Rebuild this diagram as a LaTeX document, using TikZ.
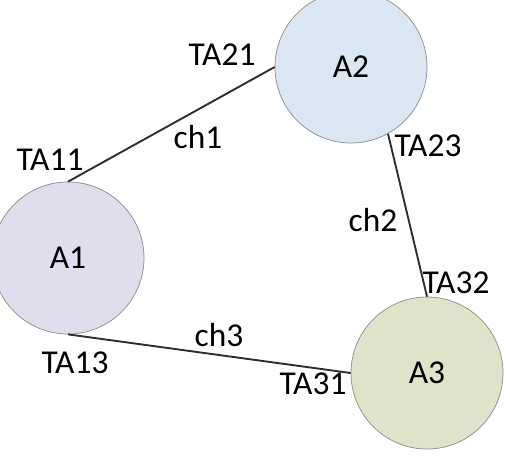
\documentclass[tikz,border=0pt]{standalone}
\usepackage{fontspec}
\setmainfont{Carlito}
\usepackage{xcolor}
\definecolor{Lilac}{RGB}{224,221,236}
\definecolor{Sky}{RGB}{218,230,242}
\definecolor{Sage}{RGB}{221,228,202}
\definecolor{Rim}{RGB}{140,140,140}
\definecolor{Link}{RGB}{45,45,45}
\usetikzlibrary{positioning}

\tikzset{
	agent/.style={circle, draw=Rim, line width=0.6pt, minimum size=4.56cm, inner sep=0pt, font=\fontsize{28.5}{32}\selectfont},
	tag/.style={font=\fontsize{28.5}{32}\selectfont, inner sep=1pt},
	link/.style={draw=Link, line width=1.6pt}
}

\begin{document}
\begin{tikzpicture}[x=0.03cm, y=-0.03cm]
		
		% Frame
		\useasboundingbox (0,0) rectangle (510,464);
		\clip (0,0) rectangle (510,464);
		
		% Agents
		\node[agent, fill=Lilac] (A1) at (68,258) {A1};
		\node[agent, fill=Sky] (A2) at (351,67) {A2};
		\node[agent, fill=Sage] (A3) at (427,373) {A3};
		
		% Channels
		\draw[link] (A1.north) -- (A2.west);
		\draw[link] (A2.-61) -- (A3.north);
		\draw[link] (A1.south) -- (A3.west);
		
		% Channel names
		\node[tag] (ch1) at (198,137) {ch1};
		\node[tag] (ch2) at (373,220) {ch2};
		\node[tag] (ch3) at (219,335) {ch3};
		
		% Ends
		\node[tag] (TA11) at (50,160) {TA11};
		\node[tag] (TA21) at (222,55) {TA21};
		\node[tag] (TA23) at (428,146) {TA23};
		\node[tag] (TA32) at (456,283) {TA32};
		\node[tag] (TA13) at (75,363) {TA13};
		\node[tag] (TA31) at (313,384) {TA31};
		
	\end{tikzpicture}
\end{document}
